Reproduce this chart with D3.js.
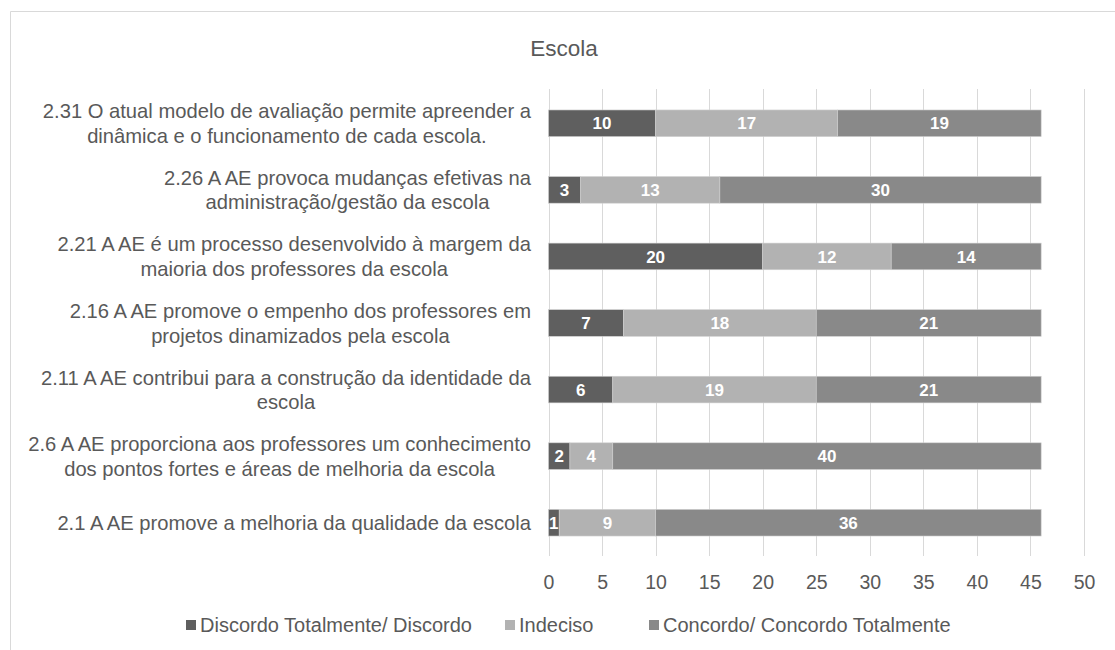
<!DOCTYPE html>
<html>
<head>
<meta charset="utf-8">
<script src="https://cdn.jsdelivr.net/npm/d3@7"></script>
<style>
  html, body { margin: 0; padding: 0; background: #fff; }
  svg { display: block; font-family: "Liberation Sans", Arial, sans-serif; }
</style>
</head>
<body>
<svg id="chart" width="1115" height="650"></svg>
<script>
// Statements, top to bottom, each split into its display lines
const categories = [
  ["2.31 O atual modelo de avaliação permite apreender a", "dinâmica e o funcionamento de cada escola."],
  ["2.26 A AE provoca mudanças efetivas na", "administração/gestão da escola"],
  ["2.21 A AE é um processo desenvolvido à margem da", "maioria dos professores da escola"],
  ["2.16 A AE promove o empenho dos professores em", "projetos dinamizados pela escola"],
  ["2.11 A AE contribui para a construção da identidade da", "escola"],
  ["2.6 A AE proporciona aos professores um conhecimento", "dos pontos fortes e áreas de melhoria da escola"],
  ["2.1 A AE promove a melhoria da qualidade da escola"]
];
const seriesNames = ["Discordo Totalmente/ Discordo", "Indeciso", "Concordo/ Concordo Totalmente"];
const discordo = [10, 3, 20, 7, 6, 2, 1];
const indeciso = [17, 13, 12, 18, 19, 4, 9];
const concordo = [19, 30, 14, 21, 21, 40, 36];
const xTicks = [0, 5, 10, 15, 20, 25, 30, 35, 40, 45, 50];
const colors = ["#5f5f5f", "#b2b2b2", "#898989"];

const svg = d3.select("#chart");
const textColor = "#595959";

// chart frame
svg.append("path")
  .attr("d", "M10.5,650 V11.5 H1115")
  .attr("fill", "none")
  .attr("stroke", "#d9d9d9")
  .attr("stroke-width", 1);

// title
svg.append("text")
  .attr("x", 564).attr("y", 48)
  .attr("dy", "0.36em")
  .attr("text-anchor", "middle")
  .attr("font-size", 22.5)
  .attr("fill", textColor)
  .text("Escola");

const x = d3.scaleLinear().domain([0, 50]).range([548.5, 1084]);
const idx = d3.range(categories.length);
const y = d3.scaleBand().domain(idx).range([90, 556]).paddingInner(0.6).paddingOuter(0.3);

// vertical gridlines
svg.append("g")
  .selectAll("line")
  .data(xTicks)
  .join("line")
  .attr("x1", d => Math.round(x(d)) + 0.5)
  .attr("x2", d => Math.round(x(d)) + 0.5)
  .attr("y1", 89).attr("y2", 556)
  .attr("stroke", "#d9d9d9")
  .attr("stroke-width", 1);

// x axis labels
const xAxis = d3.axisBottom(x).tickValues(xTicks).tickSize(0).tickPadding(0);
const gx = svg.append("g").attr("transform", "translate(0,582)").call(xAxis);
gx.select(".domain").remove();
gx.selectAll("text")
  .attr("font-size", 19.5)
  .attr("fill", textColor)
  .attr("font-family", "Liberation Sans, Arial, sans-serif")
  .attr("y", 0)
  .attr("dy", "0.36em");

// stacked bars
const stackData = idx.map(i => ({ i, a: discordo[i], b: indeciso[i], c: concordo[i] }));
const layers = d3.stack().keys(["a", "b", "c"])(stackData);

const gBars = svg.append("g");
layers.forEach((layer, k) => {
  gBars.append("g")
    .selectAll("rect")
    .data(layer)
    .join("rect")
    .attr("x", d => x(d[0]))
    .attr("width", d => x(d[1]) - x(d[0]))
    .attr("y", d => y(d.data.i))
    .attr("height", y.bandwidth())
    .attr("fill", colors[k])
    .attr("stroke", "#d0d0d0")
    .attr("stroke-width", 0.6);

  gBars.append("g")
    .selectAll("text")
    .data(layer)
    .join("text")
    .attr("x", d => (x(d[0]) + x(d[1])) / 2)
    .attr("y", d => y(d.data.i) + y.bandwidth() / 2)
    .attr("dy", "0.36em")
    .attr("text-anchor", "middle")
    .attr("font-size", 17)
    .attr("font-weight", "bold")
    .attr("fill", "#ffffff")
    .text(d => d[1] - d[0]);
});

// category labels: right-aligned block, lines centred within it
const labelRight = 531;
const lineH = 24.5;
const gLab = svg.append("g");
categories.forEach((lines, i) => {
  const cy = y(i) + y.bandwidth() / 2;
  const g = gLab.append("g");
  const t = g.selectAll("text")
    .data(lines)
    .join("text")
    .attr("font-size", 20.2)
    .attr("fill", textColor)
    .attr("text-anchor", "middle")
    .attr("y", (d, j) => cy + (j - (lines.length - 1) / 2) * lineH)
    .attr("dy", "0.36em")
    .text(d => d);
  let maxW = 0;
  t.each(function () { maxW = Math.max(maxW, this.getComputedTextLength()); });
  t.attr("x", labelRight - maxW / 2);
});

// legend
const legendX = [186, 505, 649];
const gLeg = svg.append("g");
seriesNames.forEach((name, k) => {
  gLeg.append("rect")
    .attr("x", legendX[k]).attr("y", 620)
    .attr("width", 10).attr("height", 10)
    .attr("fill", colors[k]);
  gLeg.append("text")
    .attr("x", legendX[k] + 14).attr("y", 625)
    .attr("dy", "0.36em")
    .attr("font-size", 20)
    .attr("fill", textColor)
    .text(name);
});
</script>
</body>
</html>
